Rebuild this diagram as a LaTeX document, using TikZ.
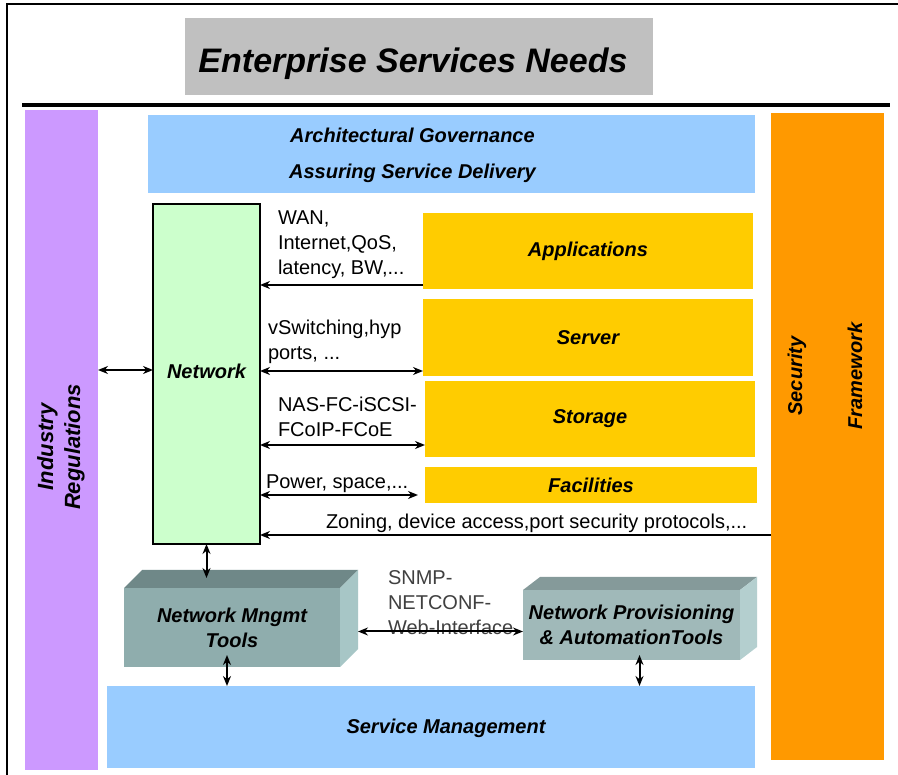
\documentclass[tikz,border=0pt]{standalone}
\usepackage{fontspec}
\setmainfont{Liberation Sans}
\usetikzlibrary{arrows.meta,positioning}

\definecolor{govblue}{HTML}{99CCFF}
\definecolor{regpurple}{HTML}{CC99FF}
\definecolor{secorange}{HTML}{FF9900}
\definecolor{layeryellow}{HTML}{FFCC00}
\definecolor{netgreen}{HTML}{CCFFCC}
\definecolor{titlegray}{HTML}{C0C0C0}
\definecolor{toolfront}{HTML}{8FADAD}
\definecolor{tooltop}{HTML}{6F8888}
\definecolor{toolside}{HTML}{A7C6C6}

\begin{document}
\begin{tikzpicture}[
  x=1pt,y=-1pt,
  >={Stealth[length=10pt,width=8pt]},
  every node/.style={font=\fontsize{20}{25}\selectfont,inner sep=0pt,outer sep=0pt},
  block/.style={anchor=north west,align=center,font=\bfseries\itshape\fontsize{20}{25}\selectfont},
  layer/.style={block,fill=layeryellow},
  tool/.style={block,fill=toolfront},
  side/.style={rotate=90,align=center,font=\bfseries\itshape\fontsize{20}{25}\selectfont},
  note/.style={anchor=west,align=left},
  arrow/.style={line width=2pt}
]
  \useasboundingbox (0,0) rectangle (898,775);
  \fill[white] (0,0) rectangle (898,775);
  \draw[line width=1.5pt] (898,4) -- (7,4) -- (7,775);

  % title and rule
  \node[block,fill=titlegray,minimum width=468pt,minimum height=77pt] (title) at (185,18) {};
  \node[anchor=base,font=\bfseries\itshape\fontsize{34}{40}\selectfont] (titletxt) at (413,73)
    {Enterprise Services Needs};
  \draw[line width=3.5pt] (22,105) -- (890,105);

  % side bands
  \node[block,fill=regpurple,minimum width=73pt,minimum height=660pt] (ind) at (25,110) {};
  \node[side,font=\bfseries\itshape\fontsize{22}{27}\selectfont] (indtxt) at (61,447) {Industry\\Regulations};
  \node[block,fill=secorange,minimum width=113pt,minimum height=647pt] (sec) at (771,113) {};
  \node[side] (sectxt) at (797,376) {Security};
  \node[side] (frametxt) at (855,376) {Framework};

  % governance
  \node[block,fill=govblue,minimum width=607pt,minimum height=78pt] (gov) at (148,115) {};
  \node[block,anchor=center] (govtxt) at ([xshift=-39pt,yshift=-1pt]gov.center)
    {Architectural Governance\\[11pt]Assuring Service Delivery};

  % network and layers
  \node[block,draw,line width=1.5pt,fill=netgreen,minimum width=107pt,minimum height=340pt] (net) at (153,204) {};
  \node[block,anchor=center] (nettxt) at ([yshift=3pt]net.center) {Network};
  \node[layer,minimum width=330pt,minimum height=76pt] (app) at (423,213) {Applications};
  \node[layer,minimum width=330pt,minimum height=77pt] (srv) at (423,299) {Server};
  \node[layer,minimum width=330pt,minimum height=76pt] (sto) at (425,381) {Storage};
  \node[layer,minimum width=332pt,minimum height=36pt] (fac) at (425,467) {Facilities};

  \node[note] (wan) at (278,245) {WAN,\\Internet,QoS,\\latency, BW,...};
  \node[note] (hyp) at (268,342) {vSwitching,hyp\\ports, ...};
  \node[note] (san) at (278,417) {NAS-FC-iSCSI-\\FCoIP-FCoE};
  \node[note] (pow) at (266,484) {Power, space,...};
  \node[note] (zon) at (326,523) {Zoning, device access,port security protocols,...};

  \coordinate (wanp) at ([yshift=4pt]app.south west);
  \coordinate (srvp) at ([yshift=5pt]srv.south west);
  \coordinate (stop) at ([yshift=12pt]sto.south west);
  \coordinate (facp) at ([xshift=-7pt,yshift=8pt]fac.south west);
  \coordinate (zonp) at ([yshift=9pt]net.south east);
  \draw[arrow,->] (wanp) -- (wanp -| net.east);
  \draw[arrow,<->] (srvp -| net.east) -- (srvp);
  \draw[arrow,<->] (stop -| net.east) -- (stop);
  \draw[arrow,<->] (facp -| net.east) -- (facp);
  \draw[arrow,->] (zonp -| sec.west) -- (zonp);
  \draw[arrow,<->] ([yshift=4pt]ind.east |- net.west) -- ([yshift=4pt]net.west);

  % tools
  \node[tool,minimum width=216pt,minimum height=79pt] (nmt) at (124,588) {Network Mngmt\\Tools};
  \fill[tooltop] (nmt.north west) -- ++(18,-18) -- ++(216,0) -- (nmt.north east) -- cycle;
  \fill[toolside] (nmt.north east) -- ++(18,-18) -- ++(0,79) -- (nmt.south east) -- cycle;
  \node[tool,fill=toolfront!85,minimum width=217pt,minimum height=70pt] (npat) at (523,590) {Network Provisioning\\\& AutomationTools};
  \fill[tooltop!85] (npat.north west) -- ++(17,-13) -- ++(217,0) -- (npat.north east) -- cycle;
  \fill[toolside!85] (npat.north east) -- ++(17,-13) -- ++(0,70) -- (npat.south east) -- cycle;

  \node[block,fill=govblue,minimum width=648pt,minimum height=82pt] (sm) at (107,686) {};
  \node[block,anchor=center] (smtxt) at ([xshift=15pt,yshift=-1pt]sm.center) {Service Management};

  \node[note,text=black!75] (snmp) at (388,603) {SNMP-\\NETCONF-\\Web-Interface};

  \coordinate (nmttop) at ([yshift=10pt]nmt.north);
  \draw[arrow,<->] (net.south) -- (net.south |- nmttop);
  \coordinate (nmtright) at ([xshift=18pt,yshift=-4pt]nmt.east);
  \draw[arrow,<->] (nmtright) -- (nmtright -| npat.west);
  \coordinate (nmtlow) at ([xshift=-5pt,yshift=12pt]nmt.south);
  \draw[arrow,<->] (nmtlow) -- (nmtlow |- sm.north);
  \coordinate (npatlow) at ([xshift=8pt,yshift=5pt]npat.south);
  \draw[arrow,<->] (npatlow) -- (npatlow |- sm.north);
\end{tikzpicture}
\end{document}
